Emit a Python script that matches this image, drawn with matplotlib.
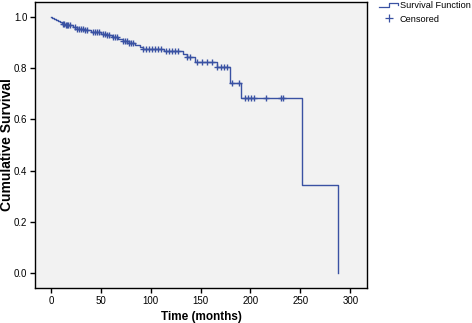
import numpy as np
import matplotlib
matplotlib.use("Agg")
import matplotlib.pyplot as plt
from matplotlib.lines import Line2D
from matplotlib.legend_handler import HandlerBase

plt.rcParams['font.family'] = ['Liberation Sans', 'DejaVu Sans']

# Kaplan-Meier step data (months, survival after step)
step_times = [0, 1, 3, 5, 7, 9, 11, 14, 22, 26, 33, 40, 50, 56, 61, 67, 72, 78, 84,
              89, 92, 113, 132, 136, 144, 166, 179, 191, 252, 288]
step_surv = [1.0, 0.996, 0.992, 0.988, 0.984, 0.979, 0.974, 0.968, 0.960, 0.953,
             0.949, 0.943, 0.935, 0.928, 0.922, 0.914, 0.906, 0.898, 0.891, 0.883,
             0.875, 0.867, 0.855, 0.844, 0.826, 0.805, 0.742, 0.684, 0.342, 0.0]

censor_times = [12, 13, 15, 16, 17, 19, 24, 26, 28, 30, 32, 34, 36, 42, 44, 46, 48,
                52, 54, 56, 58, 62, 64, 66, 72, 74, 76, 78, 80, 82, 92, 95, 98, 101,
                104, 107, 110, 115, 118, 121, 124, 127, 136, 139, 146, 151, 156, 161,
                166, 170, 173, 176, 181, 189, 195, 198, 201, 204, 216, 231, 233]

blue = "#3a52a3"

fig = plt.figure(figsize=(4.72, 3.23), dpi=100)
ax = fig.add_axes([0.074, 0.108, 0.704, 0.886])
ax.set_facecolor("#f2f2f2")

ax.step(step_times, step_surv, where="post", color=blue, lw=1.0)

# censored marks sit on the curve
idx = np.searchsorted(step_times, censor_times, side="right") - 1
censor_surv = np.array(step_surv)[idx]
ax.plot(censor_times, censor_surv, ls="none", marker="+", ms=5, mew=1.0, color=blue)

ax.set_xlim(-16, 317)
ax.set_ylim(-0.059, 1.059)
ax.set_xticks([0, 50, 100, 150, 200, 250, 300])
ax.set_yticks([0.0, 0.2, 0.4, 0.6, 0.8, 1.0])
ax.set_yticklabels(["0.0", "0.2", "0.4", "0.6", "0.8", "1.0"])
ax.tick_params(labelsize=7, length=3.5, width=1, pad=2)
for s in ax.spines.values():
    s.set_linewidth(1.0)
ax.set_xlabel("Time (months)", fontsize=8.5, fontweight="bold", labelpad=4)
ax.set_ylabel("Cumulative Survival", fontsize=10, fontweight="bold")
ax.yaxis.set_label_coords(-0.062, 0.5)


class StepHandler(HandlerBase):
    def create_artists(self, legend, orig_handle, xdescent, ydescent,
                       width, height, fontsize, trans):
        x0, x1 = -xdescent, -xdescent + width
        ym = height / 2 - ydescent
        xs = [x0, x0 + width * 0.5, x0 + width * 0.5, x1, x1]
        ys = [ym - height * 0.3, ym - height * 0.3, ym + height * 0.35,
              ym + height * 0.35, ym]
        ln = Line2D(xs, ys, color=blue, lw=0.9, transform=trans)
        return [ln]


h1 = Line2D([], [], color=blue)
h2 = Line2D([], [], ls="none", marker="+", ms=6, mew=0.9, color=blue)
fig.legend([h1, h2], ["Survival Function", "Censored"],
           handler_map={h1: StepHandler()},
           loc="upper left", bbox_to_anchor=(0.803, 0.997),
           borderaxespad=0, borderpad=0,
           frameon=False, fontsize=6.6, handlelength=2.1,
           handletextpad=0.15, labelspacing=0.5)

fig.savefig("out.png", dpi=100)
